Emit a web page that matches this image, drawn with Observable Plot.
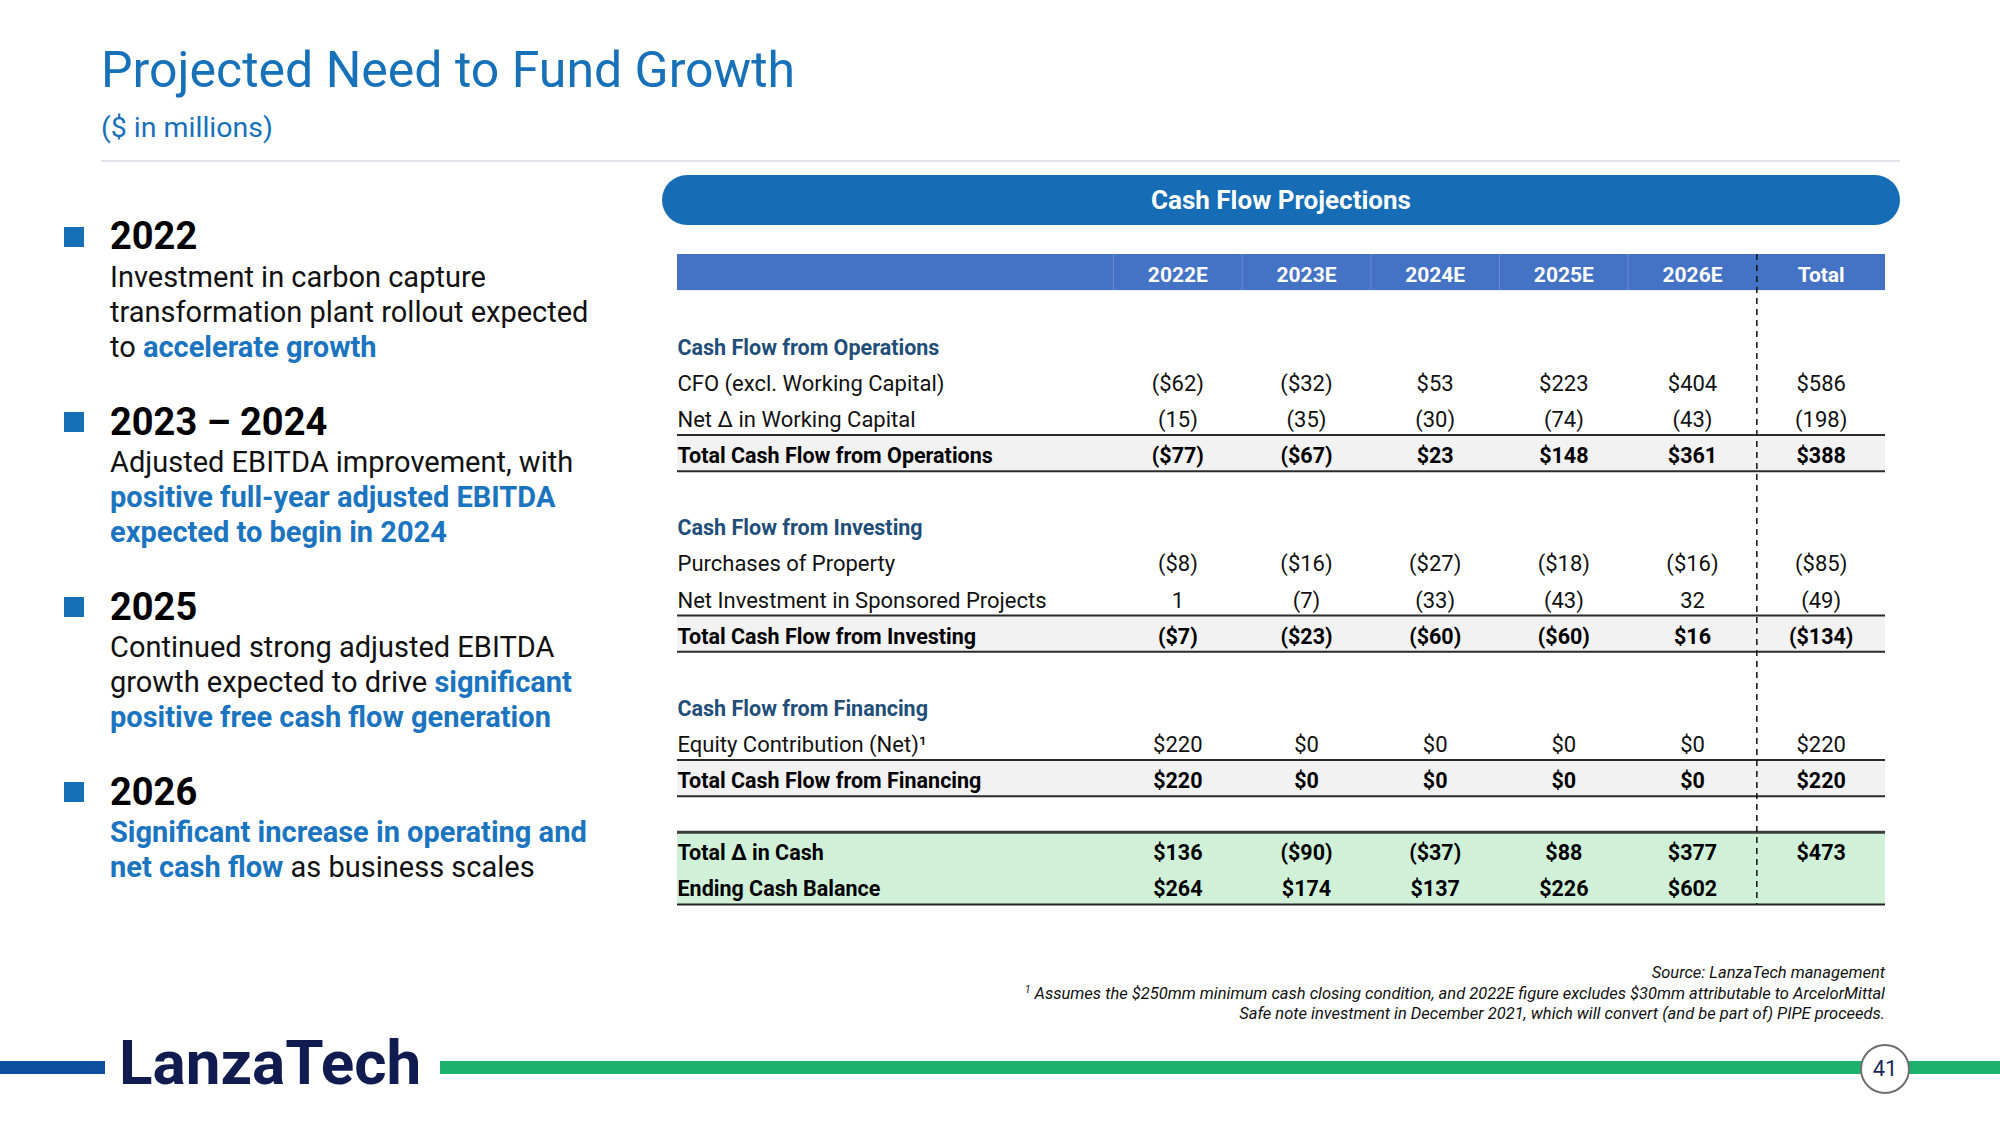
<!DOCTYPE html>
<html>
<head>
<meta charset="utf-8">
<script src="https://cdn.jsdelivr.net/npm/d3@7"></script>
<script src="https://cdn.jsdelivr.net/npm/@observablehq/plot@0.6"></script>
<style>
  html, body { margin: 0; padding: 0; background: #fff; }
  #slide { position: relative; width: 2000px; height: 1125px; background: #fff; overflow: hidden; font-family: Roboto, "Noto Sans", sans-serif; }
  .abs { position: absolute; white-space: nowrap; }
  .title { left: 101px; top: 45px; font-size: 50px; line-height: 50px; color: #1771b9; }
  .subtitle { left: 101px; top: 114px; font-size: 28.5px; line-height: 28px; color: #1771b9; }
  .hr { left: 101px; top: 160px; width: 1799px; height: 2px; background: #e1e6ec; }
  .pill { left: 662px; top: 175px; width: 1238px; height: 50px; border-radius: 25px; background: #166db5; color: #fff; font-weight: 700; font-size: 26px; line-height: 50px; text-align: center; }
  .sq { left: 64px; width: 20px; height: 20px; background: #1570b8; }
  .yr { left: 110px; font-size: 38px; line-height: 38px; font-weight: 700; color: #000; }
  .body { left: 110px; font-size: 29px; line-height: 35px; color: #111; }
  .hl { color: #1a74c0; font-weight: 700; }
  .foot { right: 115px; font-size: 16.5px; line-height: 20.5px; font-style: italic; color: #111; text-align: right; }
  .foot sup { font-size: 10px; line-height: 0; vertical-align: 6px; }
  .barb { left: 0; top: 1061px; width: 105px; height: 13px; background: #0b4f9e; }
  .barg { left: 440px; top: 1061px; width: 1560px; height: 13px; background: #1bb26b; }
  .logo { left: 119px; top: 1032px; font-size: 62px; line-height: 62px; font-weight: 700; color: #101b50; letter-spacing: 0px; }
  .pg { left: 1860px; top: 1044px; width: 46px; height: 46px; border-radius: 50%; background: #fff; border: 2.5px solid #6f6f6f; color: #1b2a5e; font-size: 22px; line-height: 46px; text-align: center; }
</style>
</head>
<body>
<div id="slide">
  <div class="abs title">Projected Need to Fund Growth</div>
  <div class="abs subtitle">($ in millions)</div>
  <div class="abs hr"></div>
  <div class="abs pill">Cash Flow Projections</div>

  <div class="abs sq" style="top:227px"></div>
  <div class="abs yr" style="top:217px">2022</div>
  <div class="abs body" style="top:260px">Investment in carbon capture<br>transformation plant rollout expected<br>to <span class="hl">accelerate growth</span></div>

  <div class="abs sq" style="top:412px"></div>
  <div class="abs yr" style="top:403px">2023 – 2024</div>
  <div class="abs body" style="top:445px">Adjusted EBITDA improvement, with<br><span class="hl">positive full-year adjusted EBITDA<br>expected to begin in 2024</span></div>

  <div class="abs sq" style="top:597px"></div>
  <div class="abs yr" style="top:588px">2025</div>
  <div class="abs body" style="top:630px">Continued strong adjusted EBITDA<br>growth expected to drive <span class="hl">significant<br>positive free cash flow generation</span></div>

  <div class="abs sq" style="top:782px"></div>
  <div class="abs yr" style="top:773px">2026</div>
  <div class="abs body" style="top:815px"><span class="hl">Significant increase in operating and<br>net cash flow</span> as business scales</div>

  <div id="table" class="abs" style="left:677px;top:254px;width:1208px"></div>

  <div class="abs foot" style="top:963px">Source: LanzaTech management<br><sup>1</sup> Assumes the $250mm minimum cash closing condition, and 2022E figure excludes $30mm attributable to ArcelorMittal<br>Safe note investment in December 2021, which will convert (and be part of) PIPE proceeds.</div>

  <div class="abs barb"></div>
  <div class="abs barg"></div>
  <div class="abs logo">LanzaTech</div>
  <div class="abs pg">41</div>
</div>
<script>
// ---- data ----
const years = ["2022E", "2023E", "2024E", "2025E", "2026E", "Total"];
const cfoExWC    = [-62, -32, 53, 223, 404, 586];
const netWC      = [-15, -35, -30, -74, -43, -198];
const totalOps   = [-77, -67, 23, 148, 361, 388];
const purchases  = [-8, -16, -27, -18, -16, -85];
const netInvest  = [1, -7, -33, -43, 32, -49];
const totalInv   = [-7, -23, -60, -60, 16, -134];
const equity     = [220, 0, 0, 0, 0, 220];
const totalFin   = [220, 0, 0, 0, 0, 220];
const totalDelta = [136, -90, -37, 88, 377, 473];
const endingCash = [264, 174, 137, 226, 602, null];

const rowSpec = [
  {kind: "header"},
  {kind: "blank"},
  {kind: "section", label: "Cash Flow from Operations"},
  {kind: "item", label: "CFO (excl. Working Capital)", values: cfoExWC, fmt: "dollar"},
  {kind: "item", label: "Net Δ in Working Capital", values: netWC, fmt: "plain"},
  {kind: "total", label: "Total Cash Flow from Operations", values: totalOps, fmt: "dollar"},
  {kind: "blank"},
  {kind: "section", label: "Cash Flow from Investing"},
  {kind: "item", label: "Purchases of Property", values: purchases, fmt: "dollar"},
  {kind: "item", label: "Net Investment in Sponsored Projects", values: netInvest, fmt: "plain"},
  {kind: "total", label: "Total Cash Flow from Investing", values: totalInv, fmt: "dollar"},
  {kind: "blank"},
  {kind: "section", label: "Cash Flow from Financing"},
  {kind: "item", label: "Equity Contribution (Net)\u00b9", values: equity, fmt: "dollar"},
  {kind: "total", label: "Total Cash Flow from Financing", values: totalFin, fmt: "dollar"},
  {kind: "blank"},
  {kind: "summary", label: "Total Δ in Cash", values: totalDelta, fmt: "dollar"},
  {kind: "summary", label: "Ending Cash Balance", values: endingCash, fmt: "dollar"}
];

// ---- build ----
const fmt = (v, f) => {
  if (v == null) return "";
  const a = Math.abs(v);
  const s = f === "dollar" ? "$" + a : String(a);
  return v < 0 ? "(" + s + ")" : s;
};
const rows = rowSpec.map((r, i) => ({...r, i}));
const headerRows = rows.filter(r => r.kind === "header");
const totalRows = rows.filter(r => r.kind === "total");
const summaryRows = rows.filter(r => r.kind === "summary");
const sectionRows = rows.filter(r => r.kind === "section");
const itemRows = rows.filter(r => r.kind === "item");
const boldLabelRows = rows.filter(r => r.kind === "total" || r.kind === "summary");
const cells = rows.flatMap(r => r.values ? r.values.map((v, j) => ({row: r.i, col: j, text: fmt(v, r.fmt), bold: r.kind !== "item"})) : []);
const colIdx = years.map((_, j) => j);
const summaryTop = summaryRows[0].i, summaryBottom = summaryRows[summaryRows.length - 1].i + 1;
const dashCol = years.indexOf("Total");

const W = 1208, H = 650;
const chart = Plot.plot({
  width: W, height: H,
  margin: 0,
  x: {domain: [0, years.length], range: [436, W], axis: null},
  y: {domain: [0, rows.length], range: [0, H], axis: null},
  style: {fontFamily: "Roboto, sans-serif", fontSize: "22px", background: "transparent", overflow: "visible"},
  marks: [
    Plot.rect(headerRows, {y1: d => d.i, y2: d => d.i + 1, fill: "#4472c4"}),
    Plot.ruleX(colIdx.slice(0, dashCol), {y1: headerRows[0].i, y2: headerRows[0].i + 1, stroke: "#6a8ad0", strokeWidth: 1}),
    Plot.rect(totalRows, {y1: d => d.i, y2: d => d.i + 1, fill: "#f2f2f2"}),
    Plot.rect([summaryTop], {y1: d => d, y2: summaryBottom, fill: "#d0f1d8"}),
    Plot.ruleY(totalRows.flatMap(d => [d.i, d.i + 1]), {stroke: "#2b2b2b", strokeWidth: 2}),
    Plot.ruleY([summaryTop], {stroke: "#3c3c3c", strokeWidth: 3}),
    Plot.ruleY([summaryBottom], {stroke: "#222", strokeWidth: 2}),
    Plot.ruleX([dashCol], {stroke: "#111", strokeWidth: 1.5, strokeDasharray: "6,5"}),
    Plot.text(years, {x: (d, j) => j + 0.5, y: headerRows[0].i + 0.5, text: d => d, fill: "#fff", fontWeight: 700, fontSize: 21, dy: 3}),
    Plot.text(sectionRows, {y: d => d.i + 0.5, text: "label", frameAnchor: "left", fill: "#1f4e79", fontWeight: 700, fontSize: 21.5, dy: 3}),
    Plot.text(itemRows, {y: d => d.i + 0.5, text: "label", frameAnchor: "left", fill: "#111", fontSize: 22, dy: 3}),
    Plot.text(boldLabelRows, {y: d => d.i + 0.5, text: "label", frameAnchor: "left", fill: "#000", fontWeight: 700, fontSize: 21.5, dy: 3}),
    Plot.text(cells.filter(c => !c.bold), {x: d => d.col + 0.5, y: d => d.row + 0.5, text: "text", fill: "#111", fontSize: 22, dy: 3}),
    Plot.text(cells.filter(c => c.bold), {x: d => d.col + 0.5, y: d => d.row + 0.5, text: "text", fill: "#000", fontWeight: 700, fontSize: 21.5, dy: 3})
  ]
});
document.getElementById("table").appendChild(chart);
</script>
</body>
</html>
